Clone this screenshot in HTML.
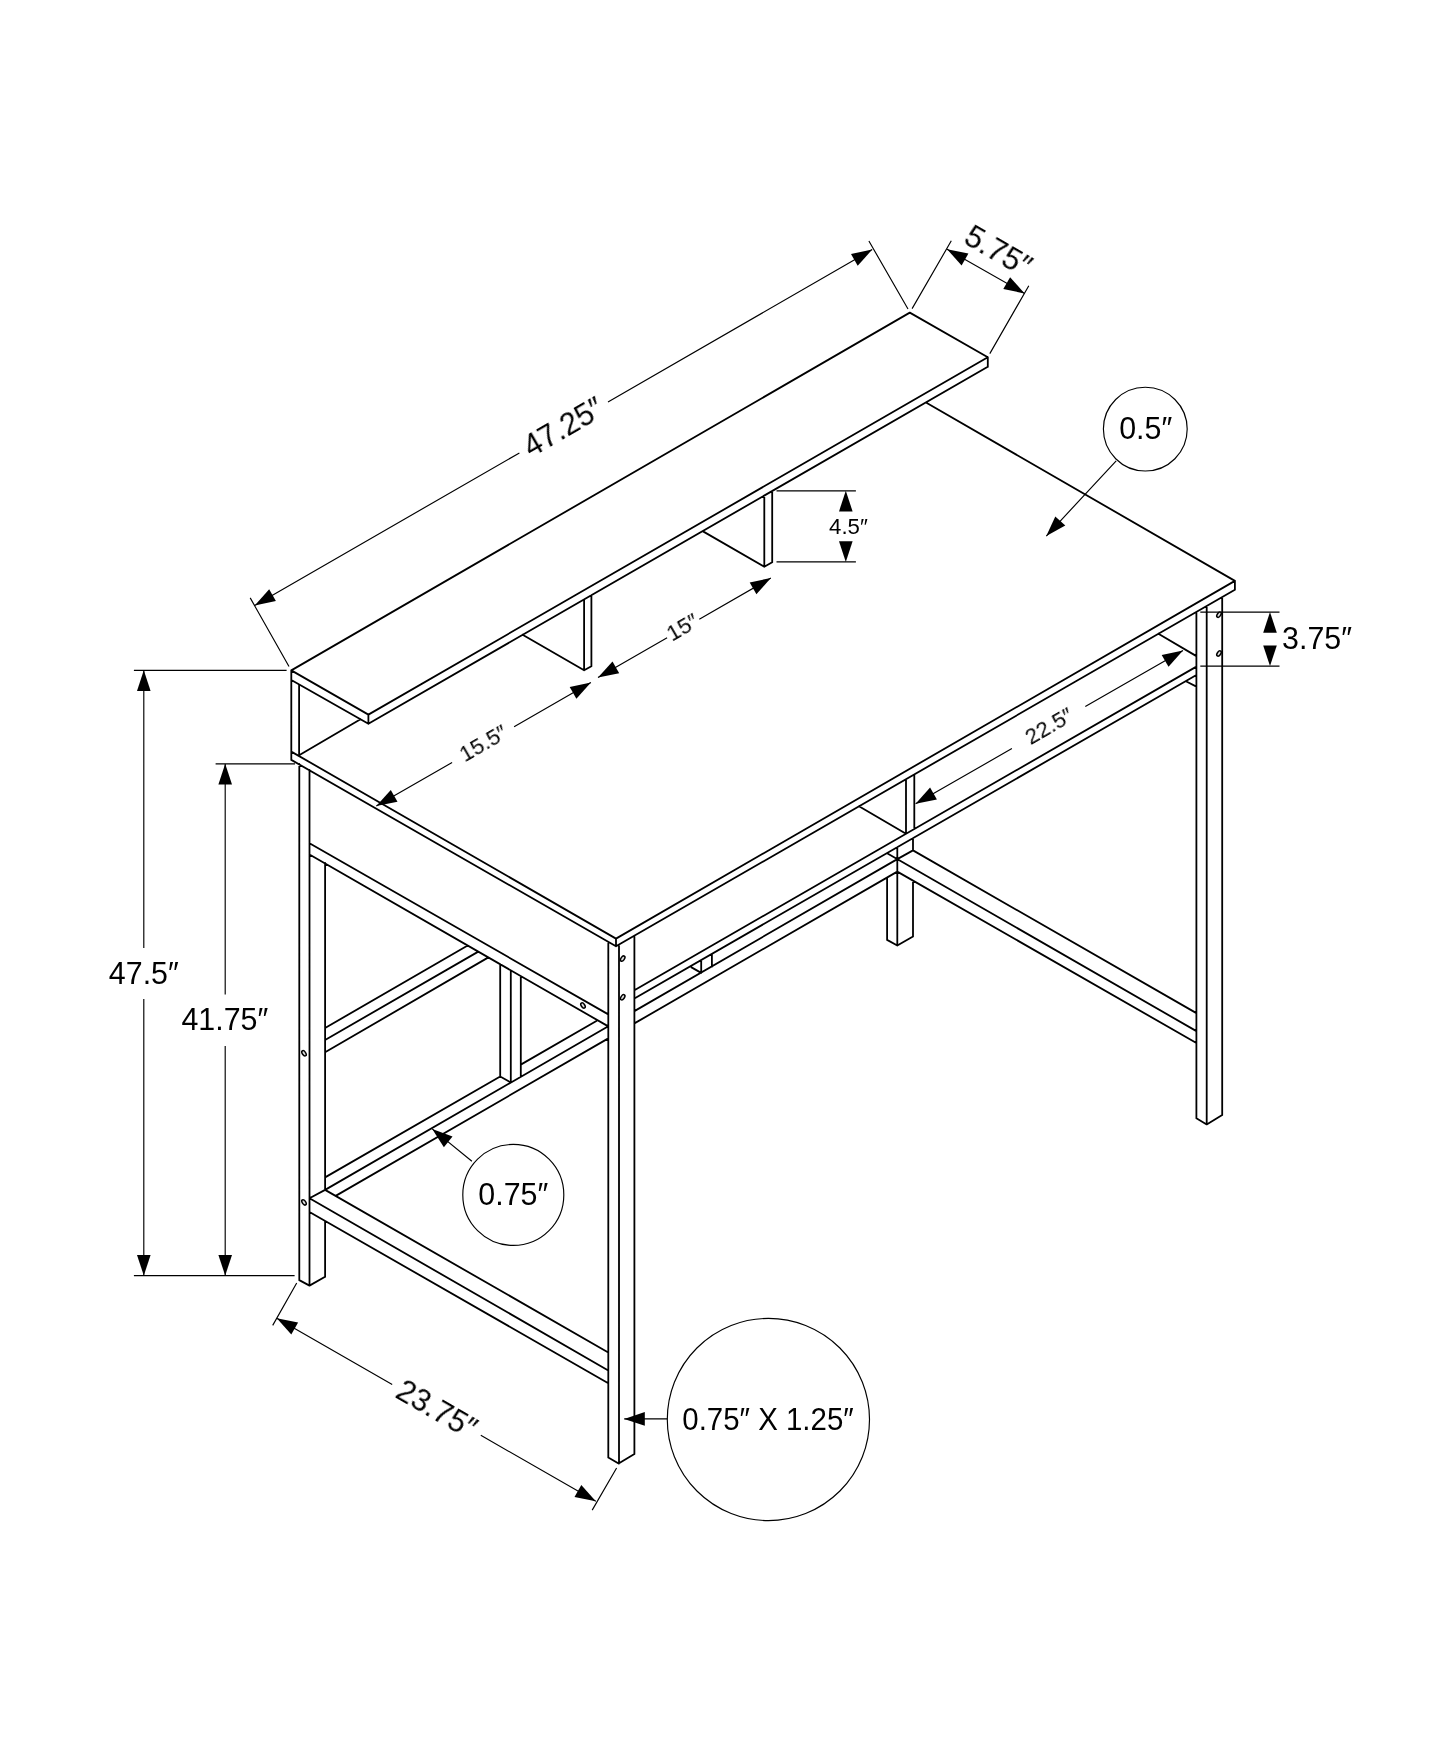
<!DOCTYPE html>
<html><head><meta charset="utf-8"><title>Desk dimensions</title>
<style>html,body{margin:0;padding:0;background:#fff}body{width:1445px;height:1754px;overflow:hidden;font-family:"Liberation Sans",sans-serif}svg{display:block}</style>
</head><body>
<svg width="1445" height="1754" viewBox="0 0 1445 1754">
<rect width="1445" height="1754" fill="#fff"/>
<path d="M291.3 670.4L909.8 312.6M909.8 312.6L987.8 357.3M368.4 714.6L987.8 357.3M368.4 723.7L987.8 366.8M291.3 670.4L368.4 714.6M291.3 680L368.4 723.7M368.4 714.6L368.4 723.7M987.8 357.3L987.8 366.8M291.3 670.4L291.3 759.9M299.1 684.4L299.1 755.2M584.1 599.4L584.1 670.3M591.4 595.2L591.4 666.2M584.1 670.3L591.4 666.2M584.1 670.3L522.6 634.8M764.3 495.6L764.3 566.7M772.2 491L772.2 562.2M764.3 566.7L772.2 562.2M764.3 566.7L702.6 531.1M291.3 751.6L616 938.6M291.3 759.9L616 946.3M616 938.6L1234.9 580.9M616 946.3L1234.9 589.7M616 938.6L616 946.3M1234.9 580.9L1234.9 589.7M926.4 402.7L1234.9 580.9M299.1 755.2L360.5 719.2M299.3 764L299.3 1280.1M309.5 769.8L309.5 1285.6M325.1 862.8L325.1 1189.9M325.1 1221L325.1 1276.8M299.3 1280.1L309.5 1285.6M309.5 1285.6L325.1 1276.8M608.3 943.4L608.3 1457.5M619 945.6L619 1463.5M634.4 936.7L634.4 1454M608.3 1457.5L618.6 1463.5M618.6 1463.5L634.4 1454M1196.4 612.9L1196.4 1118.3M1206.7 606.9L1206.7 1124.4M1222.2 598L1222.2 1115M1196.4 1118.3L1206.7 1124.4M1206.7 1124.4L1222.2 1115M634.4 990.2L1196.4 666.6M634.4 998.5L1196.4 675M1158.4 633.8L1196.4 656.1M1186.4 681.5L1196.4 686.6M887.1 878.2L887.1 939.9M897.3 847.2L897.3 945.5M913 838.1L913 850.4M913 880.6L913 936.5M887.1 939.9L897.3 945.5M897.3 945.5L913 936.5M906 779.2L906 833.8M914.3 774.4L914.3 829M906 833.8L859 806.2M701.2 960L701.2 972.9M711.9 953.9L711.9 966.7M691.5 967.4L701.2 972.9M309.5 843.2L608.3 1014.4M309.5 854.5L608.3 1026.4M325.1 1028L467.7 945.5M325.1 1040L478.3 951.6M325.1 1052.3L488.4 957.4M325.1 1177.4L500.2 1076.5M520.8 1064.6L596.4 1021M325.1 1189.9L608.3 1026.2M634.4 1011.1L897.3 859.1M336.1 1195.6L608.3 1038.4M634.4 1023.4L897.3 871.6M500.2 964.2L500.2 1076.5M510.8 970.3L510.8 1082.5M520.8 976.1L520.8 1076.8M500.2 1076.5L510.8 1082.5M325.1 1189.9L608.3 1352.5M309.5 1198.2L608.3 1370.5M309.5 1212L608.3 1383.2M309.5 1198.2L325.1 1189.9M913 850.4L1196.4 1013.1M887.1 853.3L1196.4 1031.1M897.3 871.6L1196.4 1043M913 850.4L897.3 859.1" fill="none" stroke="#000" stroke-width="1.8" stroke-linecap="round"/>
<path d="M250.2 597.9L289 666.5M868.9 241L908 309M254.7 605.5L519.4 452.9M608 401.9L872.2 249.6M951.3 240.8L912.1 308.6M1028.8 285.7L989.8 353.6M947.1 249.3L1024.6 293.4M776.5 490.8L855.9 490.8M776.5 561.9L855.9 561.9M1200.3 612.1L1279.5 612.1M1200.3 666.1L1279.5 666.1M598 677.6L667.1 637.8M699.3 619.2L770.9 578M376.3 806.1L452.1 762.5M514.1 726.8L590.9 682.6M915.6 803.7L1011.9 748.6M1085.3 706.5L1183 650.6M296.7 1283L272.7 1325.4M616.6 1468L592.2 1510.1M276.8 1318.2L392.2 1384.4M480.8 1435.3L595.8 1501.3M133.9 670.3L286.6 670.3M133.9 1275.6L294.6 1275.6M143.8 670.3L143.8 948M143.8 999L143.8 1275.6M215.6 763.8L295 763.8M225.2 763.8L225.2 994.6M225.2 1046L225.2 1275.6M1116.2 460.8L1046.3 536.1M471.9 1161.2L432.2 1128.9M667.4 1418.9L624.2 1418.9" fill="none" stroke="#000" stroke-width="1.15"/>
<circle cx="1145.3" cy="429.1" r="41.9" fill="none" stroke="#000" stroke-width="1.15"/>
<circle cx="513.3" cy="1194.9" r="50.5" fill="none" stroke="#000" stroke-width="1.15"/>
<circle cx="768.4" cy="1419.5" r="101.1" fill="none" stroke="#000" stroke-width="1.15"/>
<ellipse cx="304.0" cy="1053.3" rx="1.7" ry="3.0" transform="rotate(-35 304.0 1053.3)" fill="#ddd" stroke="#000" stroke-width="1.5"/>
<ellipse cx="304.0" cy="1202.4" rx="1.7" ry="3.0" transform="rotate(-35 304.0 1202.4)" fill="#ddd" stroke="#000" stroke-width="1.5"/>
<ellipse cx="622.7" cy="958.6" rx="1.7" ry="3.0" transform="rotate(35 622.7 958.6)" fill="#ddd" stroke="#000" stroke-width="1.5"/>
<ellipse cx="622.7" cy="997.3" rx="1.7" ry="3.0" transform="rotate(35 622.7 997.3)" fill="#ddd" stroke="#000" stroke-width="1.5"/>
<ellipse cx="583.0" cy="1005.5" rx="1.7" ry="3.0" transform="rotate(-35 583.0 1005.5)" fill="#ddd" stroke="#000" stroke-width="1.5"/>
<ellipse cx="1219.0" cy="614.7" rx="1.7" ry="3.0" transform="rotate(35 1219.0 614.7)" fill="#ddd" stroke="#000" stroke-width="1.5"/>
<ellipse cx="1219.0" cy="653.5" rx="1.7" ry="3.0" transform="rotate(35 1219.0 653.5)" fill="#ddd" stroke="#000" stroke-width="1.5"/>
<polygon points="254.7,605.5 269.2,589.3 275.9,601.1" fill="#000"/>
<polygon points="872.2,249.6 857.7,265.8 851,254" fill="#000"/>
<polygon points="947.1,249.3 968.4,253.6 961.6,265.4" fill="#000"/>
<polygon points="1024.6,293.4 1003.3,289.1 1010.1,277.3" fill="#000"/>
<polygon points="845.8,490.8 852.6,511.4 839,511.4" fill="#000"/>
<polygon points="845.8,561.9 839,541.3 852.6,541.3" fill="#000"/>
<polygon points="1270,612.1 1276.8,632.7 1263.2,632.7" fill="#000"/>
<polygon points="1270,666.1 1263.2,645.5 1276.8,645.5" fill="#000"/>
<polygon points="598,677.6 612.5,661.4 619.2,673.2" fill="#000"/>
<polygon points="770.9,578 756.4,594.2 749.7,582.4" fill="#000"/>
<polygon points="376.3,806.1 390.8,789.9 397.5,801.7" fill="#000"/>
<polygon points="590.9,682.6 576.4,698.8 569.7,687" fill="#000"/>
<polygon points="915.6,803.7 930.1,787.6 936.9,799.4" fill="#000"/>
<polygon points="1183,650.6 1168.5,666.7 1161.7,654.9" fill="#000"/>
<polygon points="276.8,1318.2 298.1,1322.6 291.3,1334.4" fill="#000"/>
<polygon points="595.8,1501.3 574.5,1496.9 581.3,1485.1" fill="#000"/>
<polygon points="143.8,670.3 150.6,690.9 137,690.9" fill="#000"/>
<polygon points="143.8,1275.6 137,1255 150.6,1255" fill="#000"/>
<polygon points="225.2,763.8 232,784.4 218.4,784.4" fill="#000"/>
<polygon points="225.2,1275.6 218.4,1255 232,1255" fill="#000"/>
<polygon points="1046.3,536.1 1055.3,516.4 1065.3,525.6" fill="#000"/>
<polygon points="432.2,1128.9 452.5,1136.6 443.9,1147.2" fill="#000"/>
<polygon points="624.2,1418.9 644.8,1412.1 644.8,1425.7" fill="#000"/>
<g font-family="&quot;Liberation Sans&quot;, sans-serif" fill="#000" opacity="0.999"><text transform="translate(563.70,427.50) rotate(-30) scale(0.95,1)" x="0" y="9.51" font-size="32.0" text-anchor="middle">47.25″</text><text transform="translate(993.00,260.20) rotate(30) scale(0.97,1)" x="0" y="0.00" font-size="32.0" text-anchor="middle">5.75″</text><text transform="translate(848.40,534.00) rotate(0) scale(0.975,1)" x="0" y="0.00" font-size="22.8" text-anchor="middle">4.5″</text><text transform="translate(1317.00,649.00) rotate(0) scale(0.95,1)" x="0" y="0.00" font-size="32.0" text-anchor="middle">3.75″</text><text transform="translate(683.20,628.50) rotate(-30) scale(0.975,1)" x="0" y="6.34" font-size="22.8" text-anchor="middle">15″</text><text transform="translate(484.00,744.50) rotate(-30) scale(0.975,1)" x="0" y="6.34" font-size="22.8" text-anchor="middle">15.5″</text><text transform="translate(1049.80,727.30) rotate(-30) scale(0.975,1)" x="0" y="6.34" font-size="22.8" text-anchor="middle">22.5″</text><text transform="translate(436.50,1409.70) rotate(30) scale(0.95,1)" x="0" y="9.51" font-size="32.0" text-anchor="middle">23.75″</text><text transform="translate(143.80,983.60) rotate(0) scale(0.95,1)" x="0" y="0.00" font-size="32.0" text-anchor="middle">47.5″</text><text transform="translate(224.80,1030.40) rotate(0) scale(0.95,1)" x="0" y="0.00" font-size="32.0" text-anchor="middle">41.75″</text><text transform="translate(1145.70,439.40) rotate(0) scale(0.95,1)" x="0" y="0.00" font-size="32.0" text-anchor="middle">0.5″</text><text transform="translate(513.30,1204.50) rotate(0) scale(0.95,1)" x="0" y="0.00" font-size="32.0" text-anchor="middle">0.75″</text><text transform="translate(768.00,1430.00) rotate(0) scale(0.92,1)" x="0" y="0.00" font-size="32.0" text-anchor="middle">0.75″ X 1.25″</text></g>
</svg>
</body></html>
